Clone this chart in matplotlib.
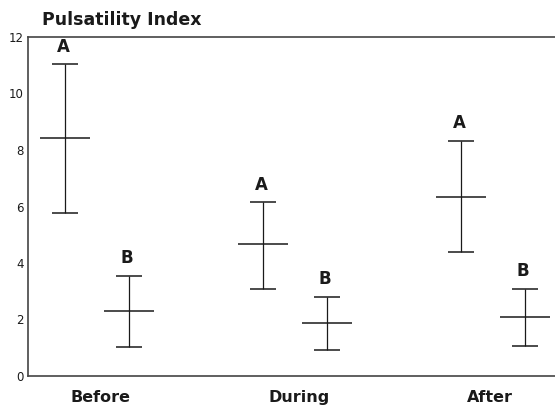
import matplotlib
matplotlib.use('Agg')
import matplotlib.pyplot as plt

plt.rcParams['font.family'] = ['DejaVu Sans']

# data
groups = ['Before', 'During', 'After']
mean_a = [8.44, 4.67, 6.34]
low_a = [5.77, 3.09, 4.39]
high_a = [11.03, 6.15, 8.32]
mean_b = [2.30, 1.89, 2.08]
low_b = [1.04, 0.92, 1.06]
high_b = [3.54, 2.80, 3.08]

INK = '#1a1a1a'

fig = plt.figure(figsize=(5.55, 4.05), dpi=100)
ax = fig.add_axes([28 / 555, 29 / 405, 527 / 555, 339 / 405])

centers = [0, 1, 2]
off = 0.16
tick_pos = [0.02, 1.02, 1.985]

for means, lows, highs, sign, letter in [(mean_a, low_a, high_a, -1, 'A'),
                                         (mean_b, low_b, high_b, 1, 'B')]:
    xs = [c + sign * off for c in centers]
    err = [[m - l for m, l in zip(means, lows)],
           [h - m for m, h in zip(means, highs)]]
    ax.errorbar(xs, means, yerr=err, fmt='_', color=INK, ecolor=INK,
                markersize=36, markeredgewidth=1.1, elinewidth=0.9,
                capsize=9.4, capthick=1.1)
    for x, h in zip(xs, highs):
        ax.text(x - 0.01, h + 0.62, letter, ha='center', va='center',
                fontsize=12, fontweight='bold', color=INK)

ax.set_xlim(-0.348, 2.313)
ax.set_ylim(0, 12)
ax.set_yticks(range(0, 13, 2))
ax.set_xticks(tick_pos)
ax.set_xticklabels(groups, fontsize=11.5, fontweight='bold')
ax.tick_params(axis='both', length=0, colors=INK)
ax.tick_params(axis='y', labelsize=8.5, pad=3)
ax.tick_params(axis='x', pad=10)
ax.spines['right'].set_visible(False)
for s in ['left', 'top', 'bottom']:
    ax.spines[s].set_color('#444444')
    ax.spines[s].set_linewidth(1.2)

fig.text(42 / 555, 1 - 20 / 405, 'Pulsatility Index', ha='left', va='center',
         fontsize=12.5, fontweight='bold', color=INK)

fig.savefig('out.png', dpi=100, facecolor='white')
